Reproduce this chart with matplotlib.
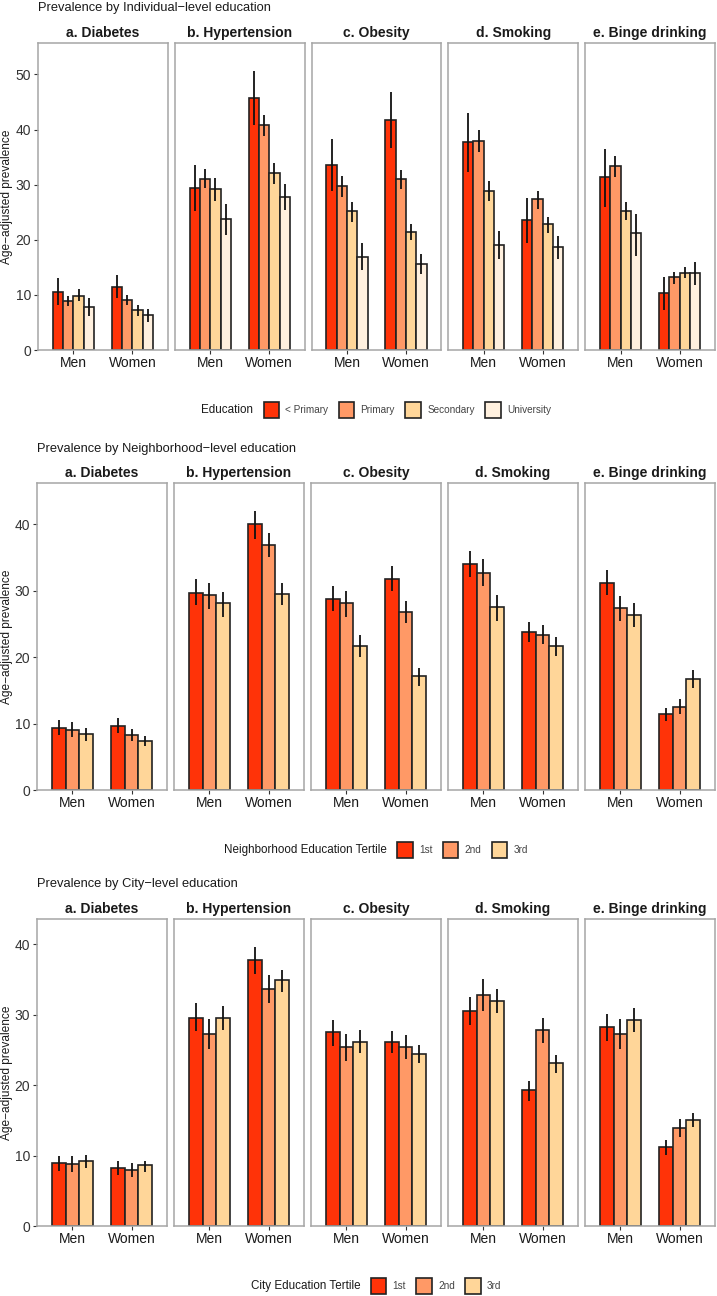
import matplotlib
matplotlib.use("Agg")
import matplotlib.pyplot as plt
from matplotlib.patches import Rectangle
from matplotlib.offsetbox import TextArea, DrawingArea, HPacker, AnchoredOffsetbox

plt.rcParams['font.family'] = ['Liberation Sans', 'DejaVu Sans']

W, H = 717, 1296

outcomes = ['a. Diabetes', 'b. Hypertension', 'c. Obesity', 'd. Smoking', 'e. Binge drinking']
sexes = ['Men', 'Women']

# individual-level education: [outcome][sex][group]
ind_groups = ['< Primary', 'Primary', 'Secondary', 'University']
ind_est = [
    [[10.5, 8.9, 9.8, 7.8], [11.5, 9.1, 7.2, 6.3]],
    [[29.4, 31.1, 29.2, 23.8], [45.8, 40.8, 32.1, 27.8]],
    [[33.6, 29.7, 25.2, 16.9], [41.8, 31.1, 21.4, 15.6]],
    [[37.7, 38.0, 28.9, 19.1], [23.5, 27.4, 22.8, 18.6]],
    [[31.4, 33.3, 25.3, 21.2], [10.4, 13.2, 14.0, 13.9]],
]
ind_lo = [
    [[8.2, 8.0, 8.8, 6.1], [9.4, 8.2, 6.2, 5.1]],
    [[25.3, 29.4, 27.0, 20.9], [40.9, 38.9, 30.1, 25.4]],
    [[28.8, 27.8, 23.3, 14.6], [36.7, 29.3, 19.9, 13.8]],
    [[32.3, 36.0, 27.1, 16.6], [19.4, 25.6, 21.3, 16.5]],
    [[26.0, 31.4, 23.5, 17.1], [7.3, 12.0, 13.0, 11.8]],
]
ind_hi = [
    [[13.0, 9.8, 11.0, 9.4], [13.6, 10.0, 8.2, 7.4]],
    [[33.5, 32.9, 31.2, 26.5], [50.7, 42.6, 33.9, 30.2]],
    [[38.2, 31.5, 26.9, 19.4], [46.8, 32.7, 22.9, 17.4]],
    [[43.0, 40.0, 30.7, 21.5], [27.5, 28.9, 24.2, 20.6]],
    [[36.4, 35.2, 26.9, 24.7], [13.3, 14.2, 15.1, 15.9]],
]

# neighborhood-level education tertiles
tert_groups = ['1st', '2nd', '3rd']
nbh_est = [
    [[9.4, 9.1, 8.4], [9.7, 8.3, 7.4]],
    [[29.7, 29.3, 28.1], [40.0, 36.9, 29.5]],
    [[28.8, 28.1, 21.6], [31.8, 26.8, 17.1]],
    [[34.0, 32.7, 27.6], [23.8, 23.4, 21.7]],
    [[31.2, 27.4, 26.3], [11.4, 12.5, 16.7]],
]
nbh_lo = [
    [[8.3, 8.0, 7.4], [8.6, 7.4, 6.6]],
    [[27.8, 27.3, 26.1], [37.8, 35.0, 27.9]],
    [[27.0, 26.1, 20.0], [30.0, 25.2, 15.7]],
    [[32.0, 30.7, 25.5], [22.3, 21.9, 20.2]],
    [[29.4, 25.5, 24.5], [10.4, 11.4, 15.4]],
]
nbh_hi = [
    [[10.6, 10.3, 9.4], [10.8, 9.2, 8.2]],
    [[31.7, 31.2, 29.8], [42.0, 38.7, 31.1]],
    [[30.7, 29.9, 23.3], [33.7, 28.5, 18.3]],
    [[36.0, 34.7, 29.3], [25.3, 24.9, 23.1]],
    [[33.1, 29.2, 28.2], [12.4, 13.7, 18.1]],
]

# city-level education tertiles
city_est = [
    [[8.9, 8.8, 9.2], [8.3, 8.0, 8.6]],
    [[29.6, 27.3, 29.6], [37.8, 33.6, 34.9]],
    [[27.5, 25.4, 26.2], [26.1, 25.4, 24.4]],
    [[30.5, 32.8, 32.0], [19.3, 27.8, 23.1]],
    [[28.2, 27.3, 29.3], [11.2, 13.9, 15.0]],
]
city_lo = [
    [[7.8, 7.6, 8.2], [7.3, 7.0, 7.7]],
    [[27.7, 25.2, 27.9], [35.8, 31.6, 33.2]],
    [[25.6, 23.4, 24.6], [24.5, 23.7, 23.1]],
    [[28.5, 30.5, 30.2], [17.8, 26.0, 21.8]],
    [[26.3, 25.2, 27.6], [10.1, 12.6, 14.0]],
]
city_hi = [
    [[9.9, 10.0, 10.1], [9.2, 8.9, 9.3]],
    [[31.6, 29.4, 31.2], [39.6, 35.6, 36.4]],
    [[29.3, 27.3, 27.8], [27.7, 27.1, 25.7]],
    [[32.5, 35.1, 33.7], [20.6, 29.6, 24.3]],
    [[30.1, 29.4, 30.9], [12.2, 15.2, 16.1]],
]

ind_colors = ['#FF3308', '#FF9966', '#FFD699', '#FFF0DE']
tert_colors = ['#FF3308', '#FF9966', '#FFD699']

sections = [
    dict(title='Prevalence by Individual\u2212level education', est=ind_est, lo=ind_lo, hi=ind_hi,
         groups=ind_groups, colors=ind_colors, legend='Education',
         top=43, bot=350, left=38, ymax=55.7, yticks=[0, 10, 20, 30, 40, 50], legy=410),
    dict(title='Prevalence by Neighborhood\u2212level education', est=nbh_est, lo=nbh_lo, hi=nbh_hi,
         groups=tert_groups, colors=tert_colors, legend='Neighborhood Education Tertile',
         top=483, bot=790, left=37, ymax=46.2, yticks=[0, 10, 20, 30, 40], legy=850),
    dict(title='Prevalence by City\u2212level education', est=city_est, lo=city_lo, hi=city_hi,
         groups=tert_groups, colors=tert_colors, legend='City Education Tertile',
         top=919, bot=1226, left=37, ymax=43.6, yticks=[0, 10, 20, 30, 40], legy=1286),
]

fig = plt.figure(figsize=(W / 100, H / 100), dpi=100)
fig.patch.set_facecolor('white')

right = 715
gap = 7
border = '#a6a6a6'

for sec in sections:
    pw = (right - sec['left'] - 4 * gap) / 5
    ng = len(sec['groups'])
    bw = 0.7 / ng
    for k, name in enumerate(outcomes):
        x0 = sec['left'] + k * (pw + gap)
        ax = fig.add_axes([x0 / W, 1 - sec['bot'] / H, pw / W, (sec['bot'] - sec['top']) / H])
        for s in range(2):
            for g in range(ng):
                xpos = s + (g - (ng - 1) / 2) * bw
                v = sec['est'][k][s][g]
                ax.bar(xpos, v, width=bw, color=sec['colors'][g], edgecolor='#222222',
                       linewidth=1.2, zorder=2)
                ax.errorbar(xpos, v, yerr=[[v - sec['lo'][k][s][g]], [sec['hi'][k][s][g] - v]],
                            fmt='none', ecolor='#111111', elinewidth=1.3, capsize=0, zorder=3)
        ax.set_xlim(-0.6, 1.6)
        ax.set_ylim(0, sec['ymax'])
        ax.set_xticks([0, 1])
        ax.set_xticklabels(sexes, fontsize=10, color='#1a1a1a')
        ax.set_yticks(sec['yticks'])
        ax.tick_params(axis='x', length=3, width=0.8, color='#333333', pad=1)
        if k == 0:
            ax.tick_params(axis='y', length=3, width=0.8, color='#333333', labelsize=10,
                           labelcolor='#333333', pad=2)
        else:
            ax.tick_params(axis='y', left=False, labelleft=False)
        for sp in ax.spines.values():
            sp.set_color(border)
            sp.set_linewidth(1.1)
        ax.set_title(name, fontsize=10, fontweight='bold', color='#1a1a1a', pad=4)

    fig.text(7.5 / W, 1 - (sec['top'] + sec['bot']) / 2 / H, 'Age\u2212adjusted prevalence',
             rotation=90, fontsize=8.6, color='#1a1a1a', ha='center', va='center')
    fig.text(sec['left'] / W, 1 - (sec['top'] - 34.5) / H, sec['title'], fontsize=9.3,
             color='#1a1a1a', ha='left', va='center')

    # legend with the title on the left, as in ggplot
    items = [TextArea(sec['legend'], textprops=dict(size=8.4, color='#1a1a1a'))]
    for g, lab in enumerate(sec['groups']):
        da = DrawingArea(12.2, 12.2, 0, 0)
        da.add_artist(Rectangle((0.5, 0.5), 11.2, 11.2, facecolor=sec['colors'][g],
                                edgecolor='#222222', linewidth=1.2))
        items.append(HPacker(children=[da, TextArea(lab, textprops=dict(size=7.2, color='#444444'))],
                             sep=4, align='center'))
    pack = HPacker(children=items, sep=7, align='center')
    box = AnchoredOffsetbox(loc='center', child=pack, frameon=False, pad=0, borderpad=0,
                            bbox_to_anchor=(376 / W, 1 - sec['legy'] / H),
                            bbox_transform=fig.transFigure)
    fig.add_artist(box)

fig.savefig('out.png', dpi=100, facecolor='white')
